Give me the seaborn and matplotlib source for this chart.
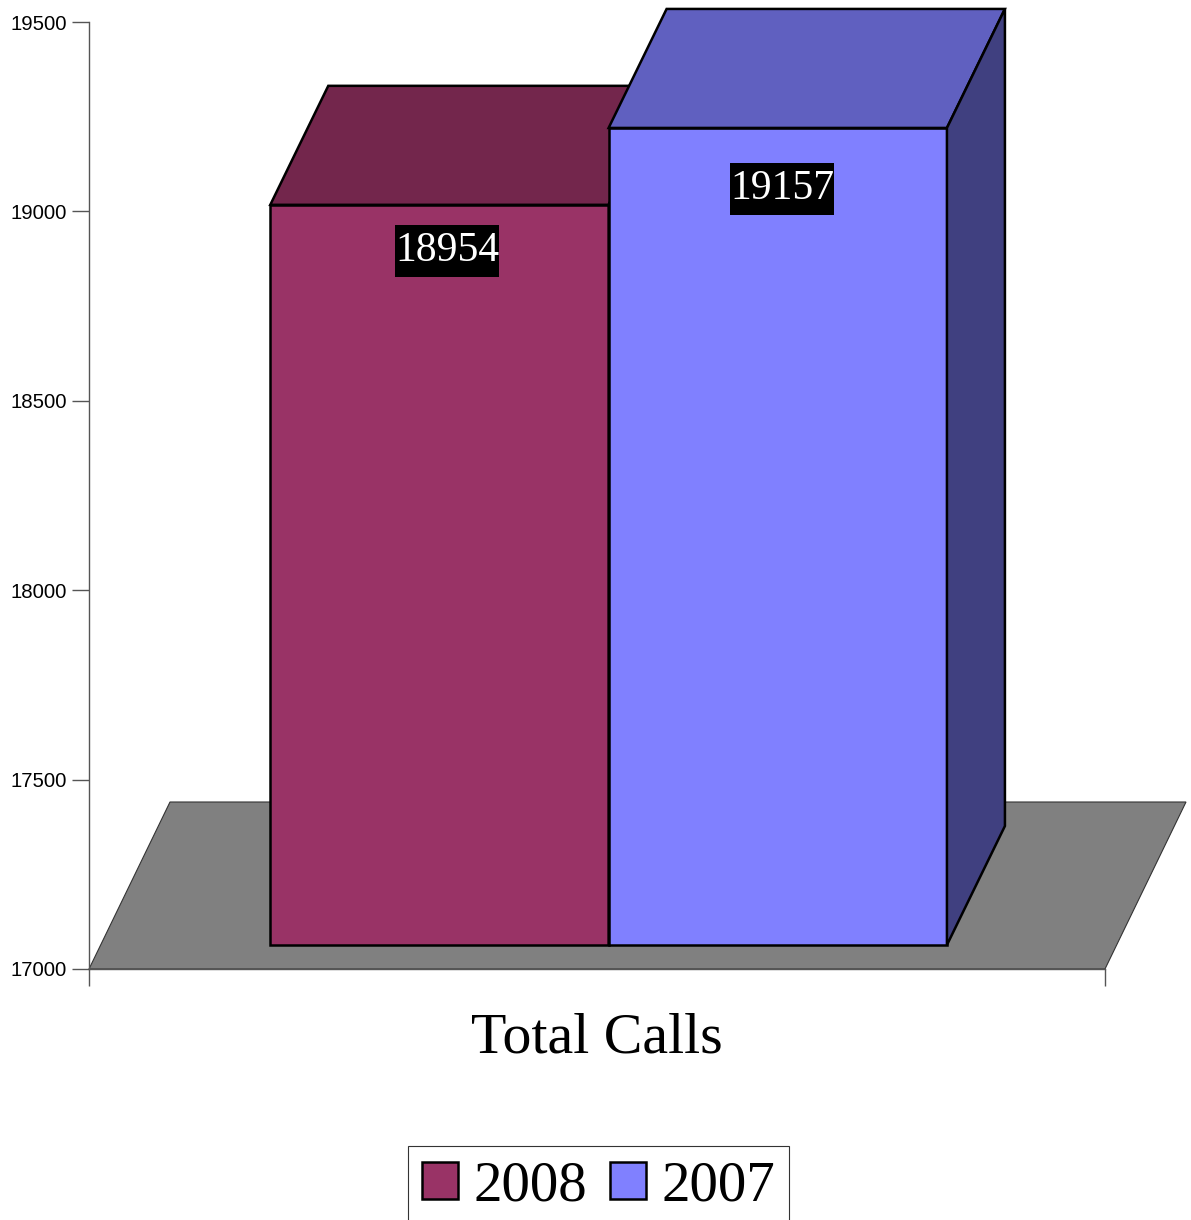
import numpy as np
import pandas as pd
import matplotlib
matplotlib.use("Agg")
import matplotlib.pyplot as plt
from matplotlib.patches import Polygon, Patch, Rectangle
from matplotlib.path import Path
import seaborn as sns

# ---- data ----
categories = ["Total Calls"]
years = ["2008", "2007"]
values = [18954, 19157]
yticks = [17000, 17500, 18000, 18500, 19000, 19500]

# ---- styles ----
front_colors = ["#993366", "#8080FF"]
top_colors = ["#73264C", "#6060C0"]
side_colors = ["#4D1A33", "#404080"]
floor_color = "#808080"
axis_color = "#555555"
edge_lw = 1.8

sns.set_theme(style="ticks")
plt.rcParams["font.family"] = ["Liberation Sans", "DejaVu Sans"]
plt.rcParams["text.color"] = "black"

W, H = 1191, 1220
fig = plt.figure(figsize=(W / 100, H / 100), dpi=100)
ax = fig.add_axes([89 / W, (H - 969) / H, (1105 - 89) / W, (969 - 22) / H])

df = pd.DataFrame({
    "category": categories * len(years),
    "year": years,
    "value": values,
})

sns.barplot(data=df, x="category", y="value", hue="year", hue_order=years,
            palette=front_colors, width=0.666, edgecolor="black", linewidth=edge_lw,
            saturation=1, errorbar=None, legend=False, ax=ax)
ax.set_xlim(-0.5, 0.5)
ax.set_ylim(yticks[0], yticks[-1])
base = yticks[0]

bars = sorted([p for p in ax.patches if isinstance(p, Rectangle)], key=lambda p: p.get_x())


def px2data(dxp, dyp):
    inv = ax.transData.inverted()
    p0 = inv.transform((0, 0))
    p1 = inv.transform((dxp, dyp))
    return p1 - p0


def tall_box(x0, y0, width, height, mutation_size):
    padx = 0.0 * mutation_size
    pady = 0.16 * mutation_size
    xa, xb = x0 - padx, x0 + width + padx
    ya, yb = y0 - pady, y0 + height + pady
    return Path([(xa, ya), (xb, ya), (xb, yb), (xa, yb), (xa, ya)], closed=True)


SX, SY = px2data(11.6, 24)   # bar placement inside floor depth
DX, DY = px2data(58, 119)    # bar depth
FX, FY = px2data(81, 167)    # floor depth

floor = Polygon([(-0.5, base), (0.5, base), (0.5 + FX, base + FY), (-0.5 + FX, base + FY)],
                closed=True, facecolor=floor_color, edgecolor="#333333", linewidth=0.8,
                clip_on=False, zorder=1)
ax.add_patch(floor)

label_offsets_px = [(8, -46), (4.5, -61)]

for i, p in enumerate(bars):
    v = p.get_height()
    w = p.get_width()
    x0 = p.get_x() + SX
    b = base + SY
    t = v + SY
    p.set_x(x0)
    p.set_y(b)
    p.set_height(v - base)
    p.set_clip_on(False)
    p.set_zorder(3 + i)
    top = Polygon([(x0, t), (x0 + w, t), (x0 + w + DX, t + DY), (x0 + DX, t + DY)],
                  closed=True, facecolor=top_colors[i], edgecolor="black", linewidth=edge_lw,
                  clip_on=False, zorder=3 + i, joinstyle="miter")
    side = Polygon([(x0 + w, b), (x0 + w + DX, b + DY), (x0 + w + DX, t + DY), (x0 + w, t)],
                   closed=True, facecolor=side_colors[i], edgecolor="black", linewidth=edge_lw,
                   clip_on=False, zorder=3 + i, joinstyle="miter")
    ax.add_patch(top)
    ax.add_patch(side)
    ox, oy = label_offsets_px[i]
    ax.annotate(f"{v:.0f}", xy=(x0 + w / 2, t), xytext=(ox * 0.72, oy * 0.72),
                textcoords="offset points", ha="center", va="center", color="white",
                fontsize=30, family=["Liberation Serif", "DejaVu Serif"],
                bbox=dict(boxstyle=tall_box, facecolor="black", edgecolor="none"),
                zorder=10, annotation_clip=False)

# ---- axes styling ----
ax.set_yticks(yticks)
ax.set_yticklabels([str(t) for t in yticks])
ax.tick_params(axis="y", direction="out", length=12.2, width=1, color=axis_color,
               labelsize=14.7, pad=3.6, left=True, labelcolor="black")
ax.set_xticks([0])
ax.set_xticklabels(categories, fontsize=41.8, family=["Liberation Serif", "DejaVu Serif"])
ax.set_xticks([-0.5, 0.5], minor=True)
ax.tick_params(axis="x", which="major", length=0, pad=31, labelcolor="black")
ax.tick_params(axis="x", which="minor", length=12.2, width=1, color=axis_color, bottom=True)
ax.set_xlabel("")
ax.set_ylabel("")
sns.despine(ax=ax)
for s in ["left", "bottom"]:
    ax.spines[s].set_color(axis_color)
    ax.spines[s].set_linewidth(1.0)
ax.set_facecolor("white")

# ---- legend ----
handles = [Patch(facecolor=c, edgecolor="black", linewidth=edge_lw) for c in front_colors]
leg = fig.legend(handles, years, loc="upper center",
                 bbox_to_anchor=(598.5 / W, (H - 1146) / H), ncol=2, frameon=True,
                 fancybox=False, edgecolor="#333333", framealpha=1,
                 prop={"family": ["Liberation Serif", "DejaVu Serif"], "size": 41},
                 labelcolor="black",
                 handlelength=0.63, handleheight=0.63, handletextpad=0.27,
                 columnspacing=0.40, borderpad=0.25, borderaxespad=0)
leg.get_frame().set_linewidth(0.8)

fig.savefig("out.png", dpi=100, facecolor="white")
